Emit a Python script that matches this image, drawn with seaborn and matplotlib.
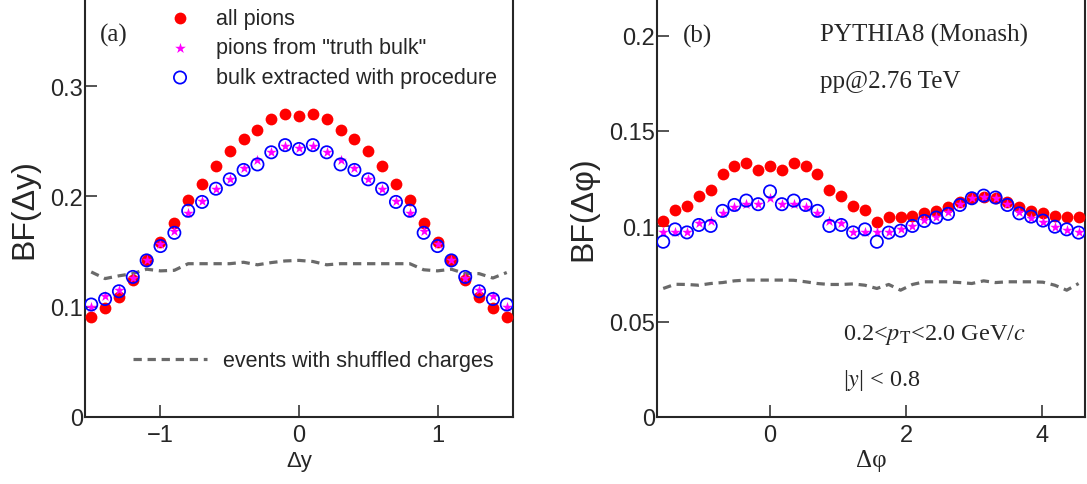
import numpy as np
import pandas as pd
import seaborn as sns
import matplotlib.pyplot as plt
from matplotlib import ticker

sns.set_style("ticks")
plt.rcParams['font.family'] = ['Liberation Sans', 'DejaVu Sans']
plt.rcParams['mathtext.fontset'] = 'stix'

# ---- data ----
dy = np.linspace(-1.5, 1.5, 31)
bf_all_y = [0.091, 0.099, 0.109, 0.124, 0.142, 0.159, 0.176, 0.197, 0.211, 0.228, 0.241,
            0.252, 0.260, 0.270, 0.2745, 0.273, 0.2745, 0.270, 0.260, 0.252, 0.241, 0.228,
            0.211, 0.197, 0.176, 0.159, 0.142, 0.124, 0.109, 0.099, 0.091]
bf_truth_y = [0.100, 0.110, 0.115, 0.126, 0.142, 0.157, 0.169, 0.185, 0.196, 0.207, 0.2155,
              0.2255, 0.233, 0.2405, 0.2455, 0.2435, 0.2455, 0.2405, 0.233, 0.2255, 0.2155,
              0.207, 0.196, 0.185, 0.169, 0.157, 0.142, 0.126, 0.115, 0.110, 0.100]
bf_extr_y = [0.102, 0.107, 0.114, 0.127, 0.142, 0.155, 0.167, 0.187, 0.195, 0.207, 0.2155,
             0.224, 0.229, 0.240, 0.2465, 0.243, 0.2465, 0.240, 0.229, 0.224, 0.2155, 0.207,
             0.195, 0.187, 0.167, 0.155, 0.142, 0.127, 0.114, 0.107, 0.102]
bf_shuf_y = [0.1315, 0.1255, 0.128, 0.130, 0.134, 0.1325, 0.133, 0.139, 0.139, 0.139, 0.139,
             0.1403, 0.138, 0.140, 0.1415, 0.142, 0.141, 0.138, 0.139, 0.139, 0.139, 0.139,
             0.139, 0.139, 0.1335, 0.1325, 0.134, 0.130, 0.130, 0.126, 0.131]

dphi = -np.pi / 2 + np.arange(36) * 2 * np.pi / 36
bf_all_phi = [0.1028, 0.1086, 0.1104, 0.1160, 0.1191, 0.1274, 0.1318, 0.1332, 0.1297, 0.1314,
              0.1297, 0.1332, 0.1318, 0.1274, 0.1191, 0.1160, 0.1104, 0.1086, 0.1025, 0.1047,
              0.1047, 0.1054, 0.1072, 0.1082, 0.1100, 0.1125, 0.1147, 0.1153, 0.1151, 0.1125,
              0.1100, 0.1082, 0.1072, 0.1054, 0.1047, 0.1047]
bf_truth_phi = [0.0968, 0.0972, 0.0972, 0.1016, 0.1028, 0.1072, 0.1100, 0.1118, 0.1118, 0.1147,
                0.1118, 0.1118, 0.1100, 0.1072, 0.1028, 0.1016, 0.0972, 0.0972, 0.0968, 0.0968,
                0.0984, 0.1002, 0.1033, 0.1051, 0.1076, 0.1116, 0.1151, 0.1156, 0.1147, 0.1116,
                0.1076, 0.1046, 0.1025, 0.0995, 0.0981, 0.0968]
bf_extr_phi = [0.0919, 0.0984, 0.0968, 0.1007, 0.1002, 0.1081, 0.1112, 0.1135, 0.1116, 0.1183,
               0.1116, 0.1135, 0.1112, 0.1081, 0.1002, 0.1007, 0.0968, 0.0984, 0.0919, 0.0967,
               0.0977, 0.1002, 0.1028, 0.1046, 0.1065, 0.1112, 0.1147, 0.1161, 0.1151, 0.1112,
               0.1068, 0.1051, 0.1030, 0.0998, 0.0984, 0.0967]
bf_shuf_phi = [0.0674, 0.0696, 0.0695, 0.0691, 0.0700, 0.0705, 0.0714, 0.0718, 0.0718, 0.0718,
               0.0718, 0.0717, 0.0709, 0.0700, 0.0695, 0.0695, 0.0698, 0.0691, 0.0674, 0.0695,
               0.0665, 0.0695, 0.0709, 0.0709, 0.0709, 0.0705, 0.0700, 0.0714, 0.0705, 0.0709,
               0.0709, 0.0709, 0.0707, 0.0691, 0.0665, 0.0700]

labels = ['all pions', 'pions from "truth bulk"', 'bulk extracted with procedure',
          'events with shuffled charges']

W, H = 1087, 485
fig = plt.figure(figsize=(W / 100, H / 100), dpi=100)
ax1 = fig.add_axes([85 / W, 67 / H, 428 / W, 418 / H])
ax2 = fig.add_axes([657 / W, 67 / H, 428 / W, 418 / H])

grey = '#6a6a6a'


def draw(ax, x, all_, truth, extr, shuf):
    df = pd.DataFrame({'x': x, 'all': all_, 'truth': truth, 'extr': extr, 'shuf': shuf})
    sns.lineplot(data=df, x='x', y='shuf', ax=ax, color=grey, linewidth=2.3,
                 label=labels[3])
    ax.lines[-1].set_dashes((2.6, 1.8))
    sns.scatterplot(data=df, x='x', y='all', ax=ax, color='#ff0000', edgecolor='#ff0000',
                    s=72, marker='o', linewidth=0, label=labels[0], zorder=3)
    sns.scatterplot(data=df, x='x', y='truth', ax=ax, color='#ff00ff', edgecolor='#ff00ff',
                    s=65, marker='*', linewidth=0, label=labels[1], zorder=4)
    sns.scatterplot(data=df, x='x', y='extr', ax=ax, color='#0000ff', edgecolor='#0000ff',
                    s=78, marker='o', linewidth=1.25, label=labels[2], zorder=5)
    ax.collections[-1].set_facecolor('none')
    ax.spines['top'].set_visible(False)
    for sp in ['left', 'right', 'bottom']:
        ax.spines[sp].set_linewidth(1.5)
    ax.tick_params(direction='in', length=8.5, width=1.1, labelsize=17, right=False, top=False)
    ax.tick_params(axis='y', pad=1.5)
    ax.tick_params(axis='x', pad=5)
    ax.yaxis.set_major_formatter(ticker.FuncFormatter(lambda v, _: f'{v:g}'))


draw(ax1, dy, bf_all_y, bf_truth_y, bf_extr_y, bf_shuf_y)
draw(ax2, dphi, bf_all_phi, bf_truth_phi, bf_extr_phi, bf_shuf_phi)

ax1.set_xlim(-1.545, 1.545)
ax1.set_ylim(0, 0.379)
ax1.set_xticks([-1, 0, 1])
ax1.set_yticks([0, 0.1, 0.2, 0.3])
ax1.set_xlabel('Δy', fontsize=16, labelpad=3)
ax1.set_ylabel('BF(Δy)', fontsize=23, labelpad=8)

ax2.set_xlim(-1.662, 4.632)
ax2.set_ylim(0, 0.2192)
ax2.set_xticks([0, 2, 4])
ax2.set_yticks([0, 0.05, 0.1, 0.15, 0.2])
ax2.set_xlabel('Δφ', fontsize=18, family=['Liberation Serif', 'DejaVu Serif'], labelpad=2)
ax2.set_ylabel('BF(Δφ)', fontsize=23, labelpad=7.5)

# legends
h, l = ax1.get_legend_handles_labels()
hd = dict(zip(l, h))
ax2.get_legend().remove()
leg1 = ax1.legend([hd[k] for k in labels[:3]], labels[:3], loc='upper left',
                  bbox_to_anchor=(158.5 / W, (H - 8.5) / H), bbox_transform=fig.transFigure,
                  frameon=False, fontsize=15.5, borderpad=0, borderaxespad=0,
                  handlelength=2.0, handletextpad=0.67, labelspacing=0.41, scatterpoints=1)
ax1.add_artist(leg1)
ax1.legend([hd[labels[3]]], [labels[3]], loc='center left',
           bbox_to_anchor=(133 / W, (H - 362) / H), bbox_transform=fig.transFigure,
           frameon=False, fontsize=15.5, borderpad=0, borderaxespad=0,
           handlelength=3.44, handletextpad=0.74)

serif = ['Liberation Serif', 'DejaVu Serif']
ax1.text(0.035, 0.900, '(a)', transform=ax1.transAxes, fontsize=18, family=serif)
ax2.text(0.0607, 0.898, '(b)', transform=ax2.transAxes, fontsize=18, family=serif)
ax2.text(0.381, 0.8995, 'PYTHIA8 (Monash)', transform=ax2.transAxes, fontsize=18, family=serif)
ax2.text(0.381, 0.789, 'pp@2.76 TeV', transform=ax2.transAxes, fontsize=18, family=serif)
ax2.text(0.4346, 0.1866, r'0.2<$p_{\mathrm{T}}$<2.0 GeV/$c$', transform=ax2.transAxes,
         fontsize=17.5, family=serif)
ax2.text(0.4346, 0.0766, r'|$y$| < 0.8', transform=ax2.transAxes, fontsize=17.5, family=serif)

fig.savefig('out.png', dpi=100)
